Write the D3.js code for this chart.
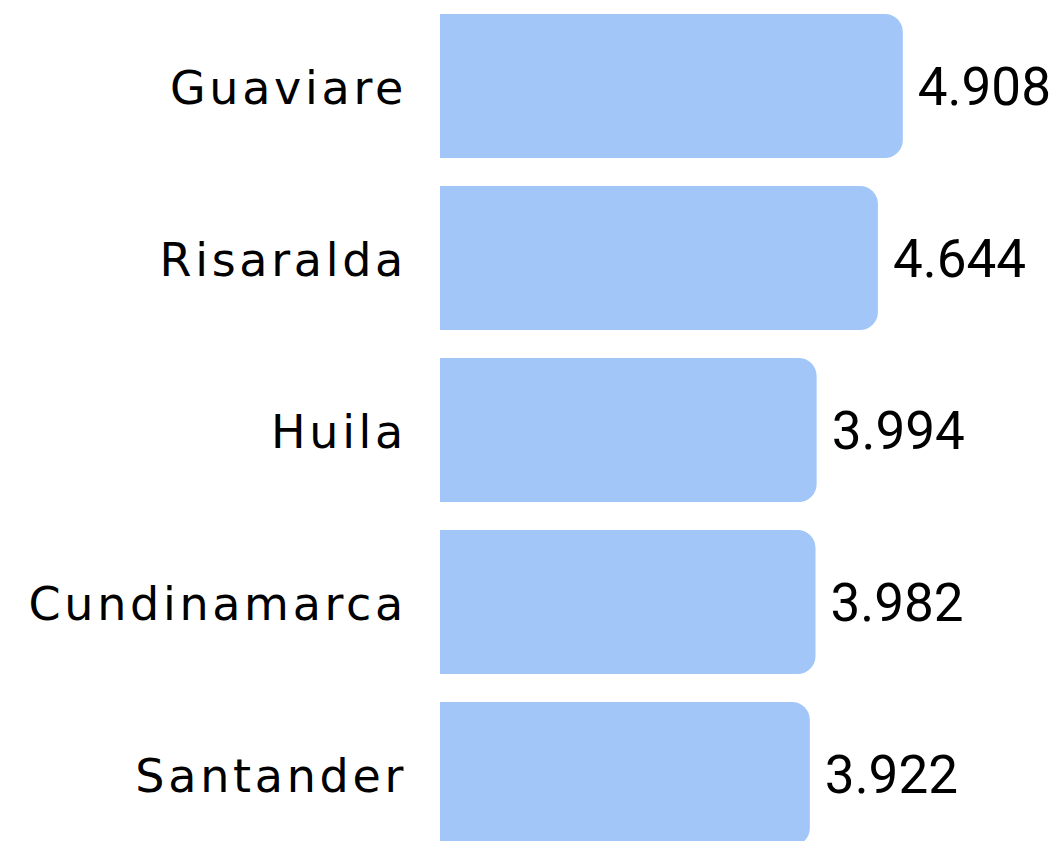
<!DOCTYPE html>
<html>
<head>
<meta charset="utf-8">
<script src="https://cdn.jsdelivr.net/npm/d3@7"></script>
<style>
  body { margin: 0; background: #fff; }
</style>
</head>
<body>
<div id="grafico"></div>
<script>
const categories = ["Guaviare", "Risaralda", "Huila", "Cundinamarca", "Santander"];
const values     = [4.908, 4.644, 3.994, 3.982, 3.922];
const valueLabels = ["4.908", "4.644", "3.994", "3.982", "3.922"];

const width  = 1061;
const height = 841;
const radius = 18;

const data = categories.map((c, i) => ({ name: c, value: values[i], label: valueLabels[i] }));

const svg = d3.select("#grafico")
              .append("svg")
              .attr("width", width)
              .attr("height", height);

const xScale = d3.scaleLinear()
                 .domain([0, 5])
                 .range([440, 911.5]);

const yScale = d3.scaleBand()
                 .domain(categories)
                 .range([14, 846])
                 .paddingInner(28 / 172)
                 .paddingOuter(0);

// bar with only the right corners rounded
function barPath(d) {
    const x0 = xScale(0), x1 = xScale(d.value);
    const y0 = yScale(d.name), y1 = y0 + yScale.bandwidth();
    const r = radius;
    return `M${x0},${y0}H${x1 - r}A${r},${r} 0 0 1 ${x1},${y0 + r}` +
           `V${y1 - r}A${r},${r} 0 0 1 ${x1 - r},${y1}H${x0}Z`;
}

svg.selectAll("path.bar")
   .data(data)
   .enter()
   .append("path")
   .attr("class", "bar")
   .attr("fill", "#a1c6f7")
   .attr("d", barPath);

// category names, right aligned against the bars
svg.selectAll("text.cat")
   .data(data)
   .enter()
   .append("text")
   .attr("class", "cat")
   .attr("x", 407)
   .attr("y", d => yScale(d.name) + yScale.bandwidth() / 2 + 18)
   .attr("text-anchor", "end")
   .attr("font-family", "'DejaVu Sans', sans-serif")
   .attr("font-size", "46px")
   .attr("letter-spacing", "3.7px")
   .attr("fill", "#000")
   .text(d => d.name);

svg.selectAll("text.val")
   .data(data)
   .enter()
   .append("text")
   .attr("class", "val")
   .attr("x", d => xScale(d.value) + 15)
   .attr("y", d => yScale(d.name) + yScale.bandwidth() / 2 + 19)
   .attr("font-family", "Roboto, sans-serif")
   .attr("font-size", "53px")
   .attr("fill", "#000")
   .text(d => d.label);
</script>
</body>
</html>
